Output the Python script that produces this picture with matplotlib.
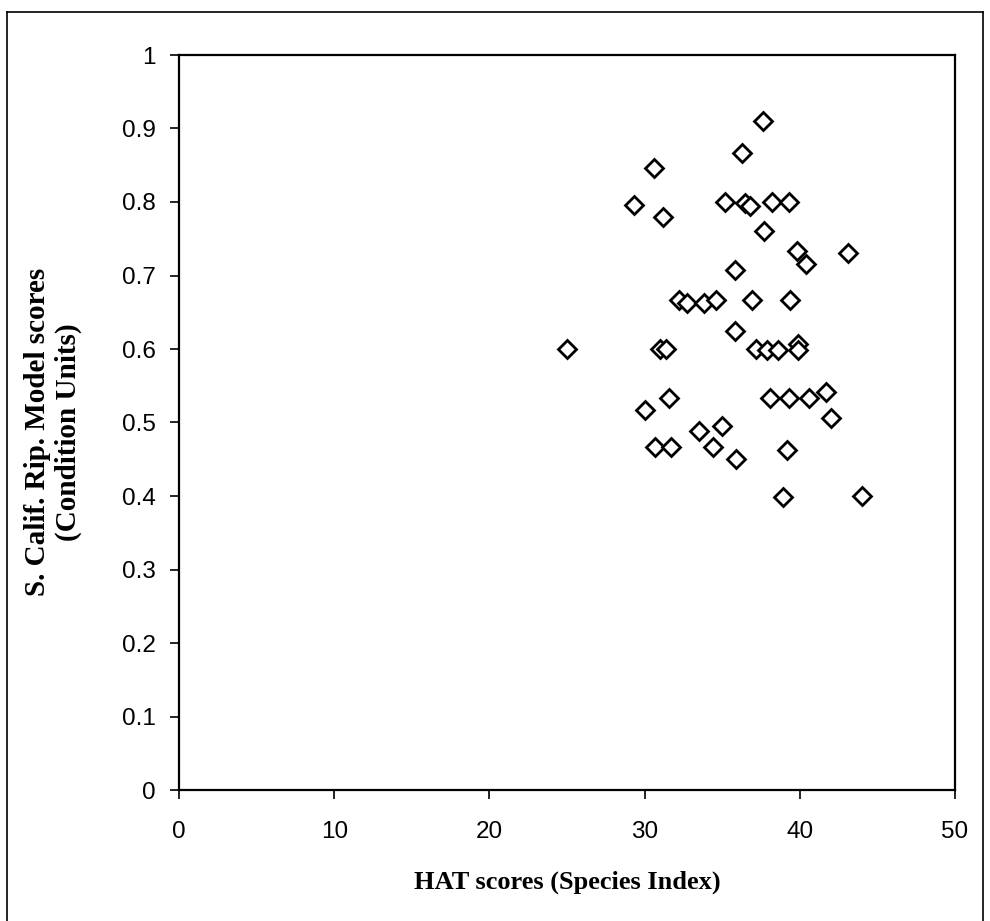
import matplotlib
matplotlib.use("Agg")
import matplotlib.pyplot as plt
from matplotlib.lines import Line2D

# HAT score vs S. Calif. riparian model score, one diamond per site
hat = [25.0, 29.3, 30.6, 31.2, 35.2, 36.3, 37.6, 36.5, 36.8, 38.2, 39.3,
       37.7, 39.8, 40.4, 43.1, 35.8,
       32.2, 32.7, 33.8, 34.6, 36.9, 39.4, 35.8,
       31.0, 31.4, 37.2, 37.9, 38.6, 39.9, 39.9,
       31.6, 30.0, 38.1, 39.3, 40.6, 41.7, 42.0,
       33.5, 35.0, 30.7, 31.7, 34.4, 35.9, 39.2, 38.9, 44.0]
model = [0.600, 0.796, 0.846, 0.779, 0.800, 0.866, 0.910, 0.798, 0.795, 0.800, 0.800,
         0.761, 0.734, 0.715, 0.730, 0.708,
         0.667, 0.663, 0.663, 0.667, 0.667, 0.667, 0.624,
         0.600, 0.600, 0.600, 0.598, 0.598, 0.607, 0.598,
         0.534, 0.517, 0.534, 0.534, 0.534, 0.541, 0.506,
         0.489, 0.495, 0.467, 0.467, 0.467, 0.450, 0.462, 0.399, 0.400]

x_ticks = [0, 10, 20, 30, 40, 50]
y_ticks = [0, 0.1, 0.2, 0.3, 0.4, 0.5, 0.6, 0.7, 0.8, 0.9, 1]
y_ticklabels = ["0", "0.1", "0.2", "0.3", "0.4", "0.5", "0.6", "0.7", "0.8", "0.9", "1"]

fig = plt.figure(figsize=(9.9, 9.21), dpi=100)
ax = fig.add_axes([179 / 990, 1 - 790 / 921, (955 - 179) / 990, (790 - 55) / 921])

ax.plot(hat, model, linestyle="none", marker="D", ms=8.8, mfc="white",
        mec="black", mew=2.0)

ax.set_xlim(0, 50)
ax.set_ylim(0, 1)
ax.set_xticks(x_ticks)
ax.set_yticks(y_ticks)
ax.set_yticklabels(y_ticklabels)
ax.tick_params(direction="out", length=6.5, width=1.2, labelsize=17.5)
ax.tick_params(axis="x", pad=16)
ax.tick_params(axis="y", pad=10)
for lab in ax.get_xticklabels() + ax.get_yticklabels():
    lab.set_family("Liberation Sans")
for s in ax.spines.values():
    s.set_linewidth(1.6)

serif = dict(family="Liberation Serif", fontweight="bold")
fig.text(567 / 990, 1 - 882 / 921, "HAT scores (Species Index)", ha="center",
         va="center", fontsize=19, **serif)
fig.text(53 / 990, 1 - 432 / 921, "S. Calif. Rip. Model scores\n(Condition Units)",
         ha="center", va="center", rotation=90, fontsize=21,
         linespacing=1.15, multialignment="center", **serif)

# outer frame of the scanned figure (no bottom edge visible)
fx0, fx1, fy1 = 7 / 990, 983 / 990, 1 - 12 / 921
for xs, ys in [([fx0, fx1], [fy1, fy1]), ([fx0, fx0], [0, fy1]), ([fx1, fx1], [0, fy1])]:
    fig.add_artist(Line2D(xs, ys, color="black", lw=1.2, transform=fig.transFigure))

fig.savefig("out.png", dpi=100)
